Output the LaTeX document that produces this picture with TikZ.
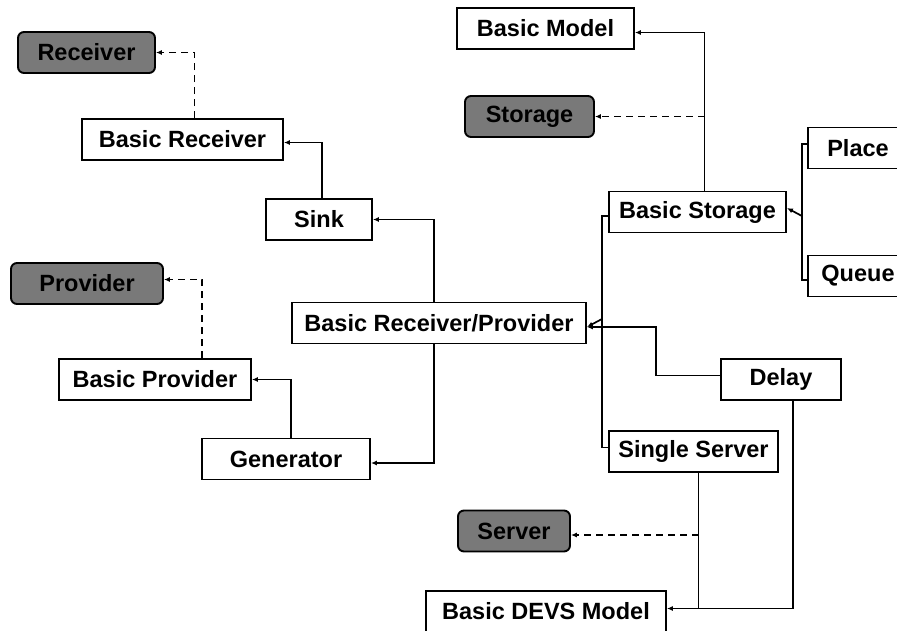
\documentclass[tikz,border=0pt]{standalone}
\usepackage{fontspec}
\newfontfamily\arial{Liberation Sans}
\usetikzlibrary{arrows.meta,calc}

\tikzset{
  box/.style={draw,line width=1.9pt,fill=white,inner sep=0pt,minimum height=41,
    font=\arial\bfseries\fontsize{23.5}{27}\selectfont},
  ibox/.style={box,rounded corners=6pt,fill=gray!95!black!100},
  wire/.style={line width=1.7pt},
  link/.style={wire,-{Latex[length=6pt,width=5pt]}},
  dlink/.style={link,dash pattern=on 7pt off 5pt}
}

\begin{document}
\begin{tikzpicture}[x=1pt,y=-1pt]
  \useasboundingbox (0,0) rectangle (897,630);

  % interfaces
  \foreach \n/\x/\y/\w/\t in {recv/86.5/52.5/137/Receiver,
      prov/87/283.5/152/Provider,
      stor/529.5/116.5/129/Storage,
      server/514/531/112/Server}
    \node[ibox,minimum width=\w] (\n) at (\x,\y) {\t};

  % classes
  \foreach \n/\x/\y/\w/\t in {brecv/182.5/139.5/201/Basic Receiver,
      sink/319/219.5/106/Sink,
      bprov/155/379.5/192/Basic Provider,
      gen/286/459/168/Generator,
      bmodel/545.5/28.5/177/Basic Model,
      bstor/697.5/212/177/Basic Storage,
      place/858/148/100/Place,
      queue/858/276/100/Queue,
      delay/781/379.5/120/Delay,
      sserv/693.5/451.5/169/Single Server,
      devs/546/611.5/240/Basic DEVS Model}
    \node[box,minimum width=\w] (\n) at (\x,\y) {\t};
  \node[box,minimum width=294] (brp) at (439,323) {Basic Receiver/Provider};

  % left part
  \draw[dlink] ([xshift=12]brecv.north) |- (recv.east);
  \draw[link] ([xshift=3]sink.north) |- ([yshift=-3]brecv.east);
  \draw[dlink] ([xshift=47]bprov.north) |- ([yshift=4]prov.east);
  \draw[link] ([xshift=5]gen.north) |- (bprov.east);
  \draw[link] ([xshift=-5]brp.north) |- (sink.east);
  \draw[link] ([xshift=-5]brp.south) |- ([yshift=-4]gen.east);

  % storage part
  \coordinate (stop) at ([xshift=7]bstor.north);
  \coordinate (j1) at (stop |- stor.east);
  \draw[link] (stop) |- ([yshift=-4]bmodel.east);
  \draw[dlink] (j1) -- (stor.east);
  \coordinate (sbus) at ($(bstor.east)+(15,4)$);
  \draw[link] ([yshift=4]place.west) -| (sbus) -- ([yshift=4]bstor.east);
  \draw[wire] ([yshift=-4]queue.west) -| (sbus);

  % receiver/provider inputs
  \coordinate (lbus) at ($(brp.east)+(15,-4)$);
  \draw[link] ([yshift=-4]bstor.west) -| (lbus) -- ([yshift=-4]brp.east);
  \draw[wire] ([yshift=4]sserv.west) -| (lbus);
  \draw[link] ([yshift=4]delay.west) -- ++(-64,0) |- ([yshift=-4]brp.east);

  % devs model
  \coordinate (devsin) at ([yshift=3]devs.east);
  \coordinate (sbot) at ([xshift=5]sserv.south);
  \coordinate (servin) at ([yshift=-4]server.east);
  \coordinate (dbus) at (sbot |- devsin);
  \draw[link] ([xshift=12]delay.south) |- (devsin);
  \draw[wire] (sbot) -- (dbus);
  \draw[dlink] (sbot |- servin) -- (servin);
\end{tikzpicture}
\end{document}
